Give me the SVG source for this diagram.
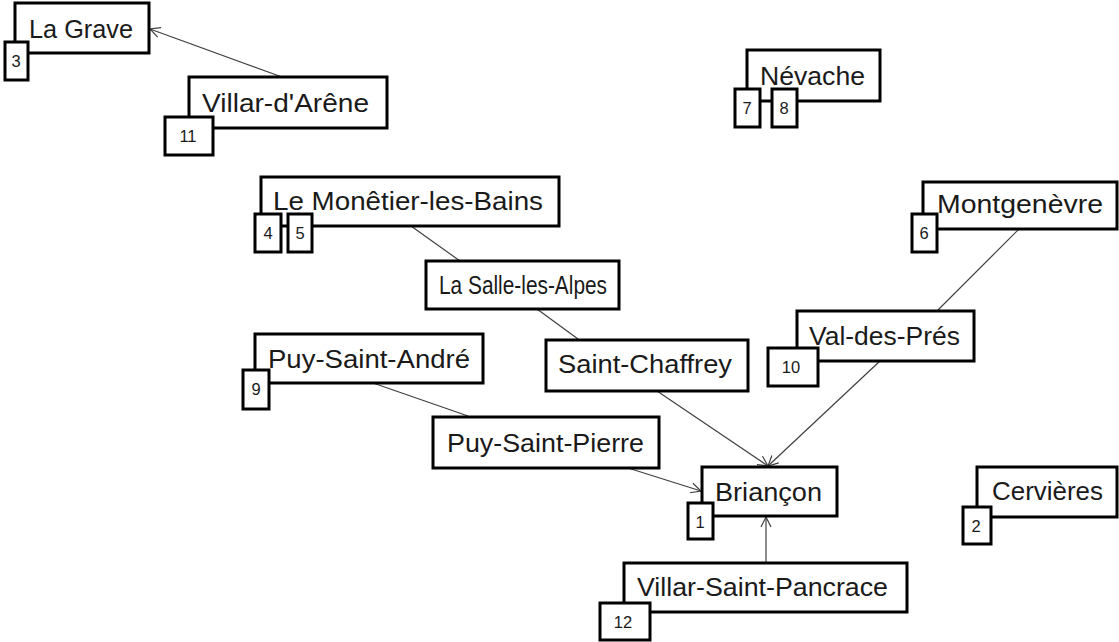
<svg xmlns="http://www.w3.org/2000/svg" width="1119" height="642" viewBox="0 0 1119 642">
<style>
.box{fill:#fff;stroke:#000;stroke-width:3}
.lbl{font-family:"Liberation Sans",Arial,sans-serif;font-size:25px;fill:#1a1a1a}
.num{font-family:"Liberation Sans",Arial,sans-serif;font-size:16.5px;fill:#1a1a1a;text-anchor:middle}
.edge{stroke:#404040;stroke-width:1.2;fill:none}
.arr{stroke:#404040;stroke-width:1.2;fill:none;marker-end:url(#ah)}
</style>
<defs>
<marker id="ah" viewBox="0 0 12 12" refX="11" refY="6" markerWidth="12" markerHeight="12" markerUnits="userSpaceOnUse" orient="auto">
<path d="M1,1 L11,6 L1,11" fill="none" stroke="#404040" stroke-width="1.2"/>
</marker>
</defs>
<rect width="1119" height="642" fill="#fff"/>
<g id="connectors">
<line class="arr" x1="282" y1="77" x2="150" y2="29"/>
<line class="edge" x1="411" y1="226" x2="460" y2="261"/>
<line class="edge" x1="537" y1="309" x2="578" y2="339"/>
<line class="edge" x1="373" y1="383" x2="468" y2="416"/>
<line class="edge" x1="1019" y1="229" x2="937" y2="311"/>
<line class="arr" x1="657" y1="391" x2="768" y2="466"/>
<line class="arr" x1="880" y1="361" x2="768" y2="466"/>
<line class="arr" x1="628" y1="468" x2="701" y2="491"/>
<line class="arr" x1="766" y1="563" x2="766" y2="517"/>
</g>
<g id="n-la-grave">
<rect class="box" x="15" y="3" width="134" height="50"/>
<text class="lbl" x="29" y="38" textLength="104" lengthAdjust="spacingAndGlyphs">La Grave</text>
<rect class="box" x="5" y="42" width="23" height="38"/>
<text class="num" x="16" y="67">3</text>
</g>
<g id="n-villar-darene">
<rect class="box" x="189" y="77" width="198" height="51"/>
<text class="lbl" x="202" y="112" textLength="167" lengthAdjust="spacingAndGlyphs">Villar-d'Arêne</text>
<rect class="box" x="165" y="117" width="48" height="38"/>
<text class="num" x="188" y="142">11</text>
</g>
<g id="n-nevache">
<rect class="box" x="747" y="50" width="133" height="51"/>
<text class="lbl" x="760" y="85" textLength="105" lengthAdjust="spacingAndGlyphs">Névache</text>
<rect class="box" x="735" y="89" width="25" height="38"/>
<text class="num" x="747" y="114">7</text>
<rect class="box" x="772" y="89" width="25" height="38"/>
<text class="num" x="784" y="114">8</text>
</g>
<g id="n-monetier">
<rect class="box" x="261" y="177" width="298" height="49"/>
<text class="lbl" x="273" y="210" textLength="270" lengthAdjust="spacingAndGlyphs">Le Monêtier-les-Bains</text>
<rect class="box" x="255" y="214" width="26" height="38"/>
<text class="num" x="268" y="239">4</text>
<rect class="box" x="288" y="214" width="24" height="38"/>
<text class="num" x="300" y="239">5</text>
</g>
<g id="n-la-salle">
<rect class="box" x="426" y="261" width="193" height="48"/>
<text class="lbl" x="439" y="294" textLength="168" lengthAdjust="spacingAndGlyphs">La Salle-les-Alpes</text>
</g>
<g id="n-montgenevre">
<rect class="box" x="923" y="182" width="194" height="47"/>
<text class="lbl" x="937" y="213" textLength="166" lengthAdjust="spacingAndGlyphs">Montgenèvre</text>
<rect class="box" x="912" y="214" width="25" height="38"/>
<text class="num" x="924" y="239">6</text>
</g>
<g id="n-puy-saint-andre">
<rect class="box" x="255" y="334" width="228" height="49"/>
<text class="lbl" x="268" y="368" textLength="202" lengthAdjust="spacingAndGlyphs">Puy-Saint-André</text>
<rect class="box" x="243" y="370" width="26" height="39"/>
<text class="num" x="256" y="395">9</text>
</g>
<g id="n-saint-chaffrey">
<rect class="box" x="546" y="340" width="202" height="51"/>
<text class="lbl" x="558" y="373" textLength="174" lengthAdjust="spacingAndGlyphs">Saint-Chaffrey</text>
</g>
<g id="n-val-des-pres">
<rect class="box" x="797" y="311" width="177" height="50"/>
<text class="lbl" x="809" y="345" textLength="151" lengthAdjust="spacingAndGlyphs">Val-des-Prés</text>
<rect class="box" x="768" y="348" width="50" height="38"/>
<text class="num" x="791" y="373">10</text>
</g>
<g id="n-puy-saint-pierre">
<rect class="box" x="433" y="417" width="226" height="51"/>
<text class="lbl" x="447" y="452" textLength="197" lengthAdjust="spacingAndGlyphs">Puy-Saint-Pierre</text>
</g>
<g id="n-briancon">
<rect class="box" x="702" y="467" width="135" height="49"/>
<text class="lbl" x="715" y="501" textLength="107" lengthAdjust="spacingAndGlyphs">Briançon</text>
<rect class="box" x="688" y="503" width="25" height="36"/>
<text class="num" x="700" y="528">1</text>
</g>
<g id="n-cervieres">
<rect class="box" x="977" y="467" width="140" height="50"/>
<text class="lbl" x="992" y="500" textLength="111" lengthAdjust="spacingAndGlyphs">Cervières</text>
<rect class="box" x="963" y="507" width="28" height="37"/>
<text class="num" x="976" y="532">2</text>
</g>
<g id="n-villar-saint-pancrace">
<rect class="box" x="624" y="563" width="283" height="49"/>
<text class="lbl" x="637" y="596" textLength="251" lengthAdjust="spacingAndGlyphs">Villar-Saint-Pancrace</text>
<rect class="box" x="600" y="603" width="50" height="37"/>
<text class="num" x="623" y="628">12</text>
</g>
</svg>
